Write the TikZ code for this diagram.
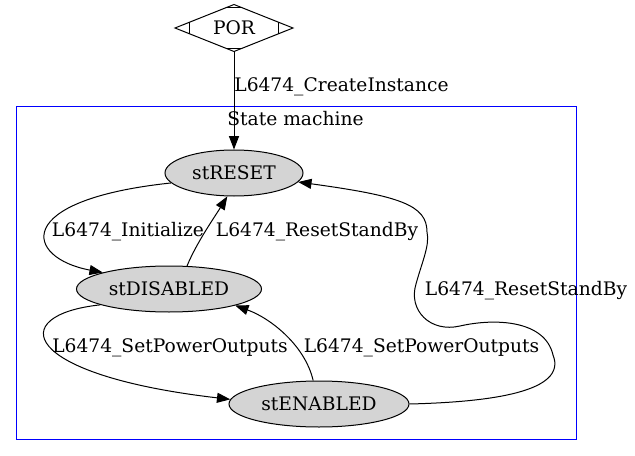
\documentclass[tikz,border=0pt]{standalone}
\usepackage{fontspec}
\setmainfont{DejaVu Serif}
\usetikzlibrary{shapes.geometric,arrows.meta,calc}
\begin{document}
\begin{tikzpicture}[x=0.75pt,y=-0.75pt,line width=0.75pt,
    font=\fontsize{14}{17}\selectfont,
    trans/.style={-{Triangle[length=10pt,width=7.5pt]}},
    state/.style={ellipse,draw,fill=black!17,inner sep=0pt,minimum height=34.5pt},
    lbl/.style={anchor=base,inner sep=0pt}]
    \useasboundingbox (0,0) rectangle (635,456);
    \node[diamond,draw,aspect=2.5,inner sep=0pt,outer sep=0pt,minimum width=88.5pt,minimum height=35.25pt] (POR) at (234,28) {POR};
    \draw ($(POR.west)!0.25!(POR.north)$) -- ($(POR.west)!0.25!(POR.south)$);
    \draw ($(POR.east)!0.25!(POR.north)$) -- ($(POR.east)!0.25!(POR.south)$);
    \draw ($(POR.north)!0.13!(POR.west)$) -- ($(POR.north)!0.13!(POR.east)$);
    \draw ($(POR.south)!0.13!(POR.west)$) -- ($(POR.south)!0.13!(POR.east)$);
    \draw[blue] (16,107) rectangle (576,439);
    \node[lbl] (machine) at (295.5,125.5) {State machine};
    \node[state,minimum width=103.5pt] (stRESET) at (234,173) {stRESET};
    \node[state,minimum width=138.75pt] (stDISABLED) at (169,289) {stDISABLED};
    \node[state,minimum width=135pt] (stENABLED) at (319,404) {stENABLED};
    \draw[trans] (POR) -- (stRESET);
    \node[lbl] (lblCreate) at (341.5,92) {L6474\_CreateInstance};
    \draw[trans] (stRESET.189) .. controls (10,200) and (25,258) .. (stDISABLED.166);
    \node[lbl] (lblInit) at (128,236.5) {L6474\_Initialize};
    \draw[trans] (stDISABLED.52) .. controls (197,242) and (214,218) .. (stRESET.254);
    \node[lbl] (lblReset) at (317,236.5) {L6474\_ResetStandBy};
    \draw[trans] (stDISABLED.193) .. controls (5,315) and (20,375) .. (stENABLED.177);
    \node[lbl] (lblPowerA) at (170,352) {L6474\_SetPowerOutputs};
    \draw[trans] (stENABLED.104) .. controls (305,345) and (270,318) .. (stDISABLED.346);
    \node[lbl] (lblPowerB) at (421.5,352) {L6474\_SetPowerOutputs};
    \draw[trans] (stENABLED.east) .. controls (490,402) and (568,392) .. (553,355)
        .. controls (545,320) and (495,318) .. (460,326)
        .. controls (430,333) and (408,310) .. (416,284)
        .. controls (422,262) and (430,245) .. (427,232)
        .. controls (427,205) and (400,196) .. (stRESET.352);
    \node[lbl] (lblStandBy) at (526,295) {L6474\_ResetStandBy};
\end{tikzpicture}
\end{document}
